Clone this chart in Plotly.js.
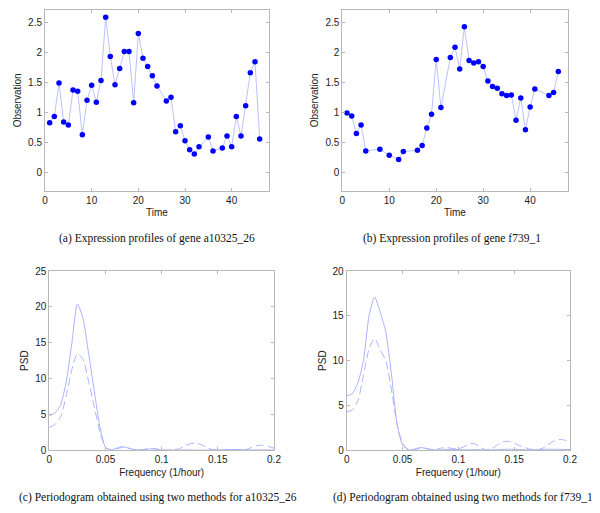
<!DOCTYPE html>
<html>
<head>
<meta charset="utf-8">
<script src="https://cdn.plot.ly/plotly-3.0.1.min.js"></script>
<style>html,body{margin:0;padding:0;background:#fff}#chart{width:600px;height:513px}</style>
</head>
<body>
<div id="chart"></div>
<script>
// ---- Data ----
const timeA = [1,2,3,4,5,6,7,8,9,10,11,12,13,14,15,16,17,18,19,20,21,22,23,24,26,27,28,29,30,31,32,33,35,36,38,39,40,41,42,43,44,45,46];
const obsA  = [0.83,0.93,1.49,0.84,0.79,1.37,1.35,0.63,1.20,1.45,1.17,1.53,2.58,1.93,1.46,1.73,2.01,2.01,1.16,2.31,1.90,1.76,1.61,1.44,1.19,1.25,0.68,0.78,0.53,0.38,0.31,0.43,0.59,0.36,0.41,0.61,0.43,0.93,0.61,1.11,1.66,1.84,0.56];

const timeB = [1,2,3,4,5,8,10,12,13,16,17,18,19,20,21,23,24,25,26,27,28,29,30,31,32,33,34,35,36,37,38,39,40,41,44,45,46];
const obsB  = [0.99,0.94,0.65,0.79,0.36,0.39,0.29,0.22,0.35,0.37,0.45,0.74,0.97,1.88,1.08,1.91,2.08,1.72,2.42,1.86,1.82,1.84,1.76,1.52,1.43,1.40,1.31,1.28,1.29,0.87,1.24,0.71,1.09,1.39,1.28,1.33,1.68];

const freq = [0,0.005,0.01,0.015,0.02,0.025,0.03,0.035,0.04,0.045,0.05,0.055,0.06,0.065,0.07,0.075,0.08,0.085,0.09,0.095,0.1,0.105,0.11,0.115,0.12,0.125,0.13,0.135,0.14,0.145,0.15,0.155,0.16,0.165,0.17,0.175,0.18,0.185,0.19,0.195,0.2];

const psdC1 = [4.8,5.2,6.3,9.5,14.8,20.4,18.4,13.5,8.3,3.3,0.4,0.05,0.3,0.5,0.35,0.1,0.05,0.1,0.2,0.15,0.05,0.03,0.02,0.03,0.05,0.04,0.02,0.02,0.03,0.05,0.06,0.08,0.1,0.12,0.1,0.06,0.04,0.05,0.06,0.05,0.04];
const psdC2 = [3.2,3.6,4.6,7.6,11.2,13.5,12.7,9.6,6.1,2.6,0.4,0.05,0.2,0.4,0.3,0.1,0.05,0.15,0.3,0.2,0.05,0.02,0.05,0.2,0.55,0.9,1.0,0.8,0.4,0.1,0.02,0.05,0.1,0.1,0.05,0.1,0.4,0.65,0.7,0.55,0.3];

const psdD1 = [6.1,6.3,7.5,10.0,15.0,17.1,15.4,13.2,8.6,3.0,0.6,0.05,0.1,0.3,0.25,0.1,0.03,0.05,0.08,0.1,0.08,0.05,0.06,0.08,0.06,0.04,0.05,0.07,0.1,0.12,0.1,0.08,0.06,0.05,0.07,0.1,0.12,0.12,0.1,0.09,0.08];
const psdD2 = [4.3,4.5,5.5,8.3,11.3,12.5,11.2,10.0,6.8,3.0,0.8,0.1,0.05,0.2,0.2,0.1,0.1,0.25,0.3,0.2,0.15,0.4,0.75,0.7,0.3,0.05,0.2,0.6,0.95,1.0,0.8,0.5,0.3,0.1,0.05,0.2,0.6,1.0,1.2,1.15,0.9];

const xTicksTime = [0,10,20,30,40];
const yTicksObs = [0,0.5,1,1.5,2,2.5];
const xTicksFreq = [0,0.05,0.1,0.15,0.2];

const captions = [
  "(a) Expression profiles of gene a10325_26",
  "(b) Expression profiles of gene f739_1",
  "(c) Periodogram obtained using two methods for a10325_26",
  "(d) Periodogram obtained using two methods for f739_1"
];

// ---- Styles ----
const W = 600, H = 513;
const lineCol = '#aab2ff';
const frameCol = '#b8b8b8';
const tickFont = {family: 'Liberation Sans, Arial, sans-serif', size: 10, color: '#222'};
const capFont = {family: 'Liberation Serif, Times New Roman, serif', size: 11.5, color: '#111'};

function ax(domainPx, range, tickvals, title, isY) {
  const d = isY ? [1 - domainPx[1] / H, 1 - domainPx[0] / H] : [domainPx[0] / W, domainPx[1] / W];
  return {
    domain: d, range: range, tickmode: 'array', tickvals: tickvals,
    showline: true, mirror: 'allticks', linecolor: frameCol, linewidth: 1,
    ticks: 'inside', ticklen: 3, tickcolor: frameCol, tickwidth: 1,
    showgrid: false, zeroline: false, tickfont: tickFont,
    title: {text: title, font: tickFont, standoff: 4},
    fixedrange: true
  };
}

const traces = [
  {x: timeA, y: obsA, type: 'scatter', mode: 'lines+markers', xaxis: 'x', yaxis: 'y',
   line: {color: lineCol, width: 0.8}, marker: {color: '#0000ff', size: 5.5}},
  {x: timeB, y: obsB, type: 'scatter', mode: 'lines+markers', xaxis: 'x2', yaxis: 'y2',
   line: {color: lineCol, width: 0.8}, marker: {color: '#0000ff', size: 5.5}},
  {x: freq, y: psdC1, type: 'scatter', mode: 'lines', xaxis: 'x3', yaxis: 'y3',
   line: {color: lineCol, width: 1, shape: 'spline', smoothing: 0.6}},
  {x: freq, y: psdC2, type: 'scatter', mode: 'lines', xaxis: 'x3', yaxis: 'y3',
   line: {color: lineCol, width: 1, dash: '8px,4px', shape: 'spline', smoothing: 0.6}},
  {x: freq, y: psdD1, type: 'scatter', mode: 'lines', xaxis: 'x4', yaxis: 'y4',
   line: {color: lineCol, width: 1, shape: 'spline', smoothing: 0.6}},
  {x: freq, y: psdD2, type: 'scatter', mode: 'lines', xaxis: 'x4', yaxis: 'y4',
   line: {color: lineCol, width: 1, dash: '8px,4px', shape: 'spline', smoothing: 0.6}}
];

const layout = {
  width: W, height: H, margin: {l: 0, r: 0, t: 0, b: 0},
  paper_bgcolor: '#fff', plot_bgcolor: '#fff', showlegend: false,
  xaxis:  ax([45, 269], [0, 48], xTicksTime, 'Time', false),
  yaxis:  ax([10, 190.7], [-0.3, 2.7], yTicksObs, 'Observation', true),
  xaxis2: ax([342.3, 567.7], [0, 48], xTicksTime, 'Time', false),
  yaxis2: ax([10, 190.7], [-0.3, 2.7], yTicksObs, 'Observation', true),
  xaxis3: ax([49.3, 274], [0, 0.2], xTicksFreq, 'Frequency (1/hour)', false),
  yaxis3: ax([271, 450.3], [0, 25], [0,5,10,15,20,25], 'PSD', true),
  xaxis4: ax([346.7, 570], [0, 0.2], xTicksFreq, 'Frequency (1/hour)', false),
  yaxis4: ax([271, 450.3], [0, 20], [0,5,10,15,20], 'PSD', true),
  annotations: [
    {text: captions[0], x: 157 / W, y: 1 - 239 / H, xref: 'paper', yref: 'paper', showarrow: false, font: capFont, xanchor: 'center', yanchor: 'middle'},
    {text: captions[1], x: 452 / W, y: 1 - 239 / H, xref: 'paper', yref: 'paper', showarrow: false, font: capFont, xanchor: 'center', yanchor: 'middle'},
    {text: captions[2], x: 158 / W, y: 1 - 497 / H, xref: 'paper', yref: 'paper', showarrow: false, font: capFont, xanchor: 'center', yanchor: 'middle'},
    {text: captions[3], x: 463 / W, y: 1 - 497 / H, xref: 'paper', yref: 'paper', showarrow: false, font: capFont, xanchor: 'center', yanchor: 'middle'}
  ]
};
layout.xaxis2.anchor = 'y2'; layout.yaxis2.anchor = 'x2';
layout.xaxis3.anchor = 'y3'; layout.yaxis3.anchor = 'x3';
layout.xaxis4.anchor = 'y4'; layout.yaxis4.anchor = 'x4';
layout.xaxis.anchor = 'y'; layout.yaxis.anchor = 'x';

Plotly.newPlot('chart', traces, layout, {displayModeBar: false, staticPlot: true});
</script>
</body>
</html>
